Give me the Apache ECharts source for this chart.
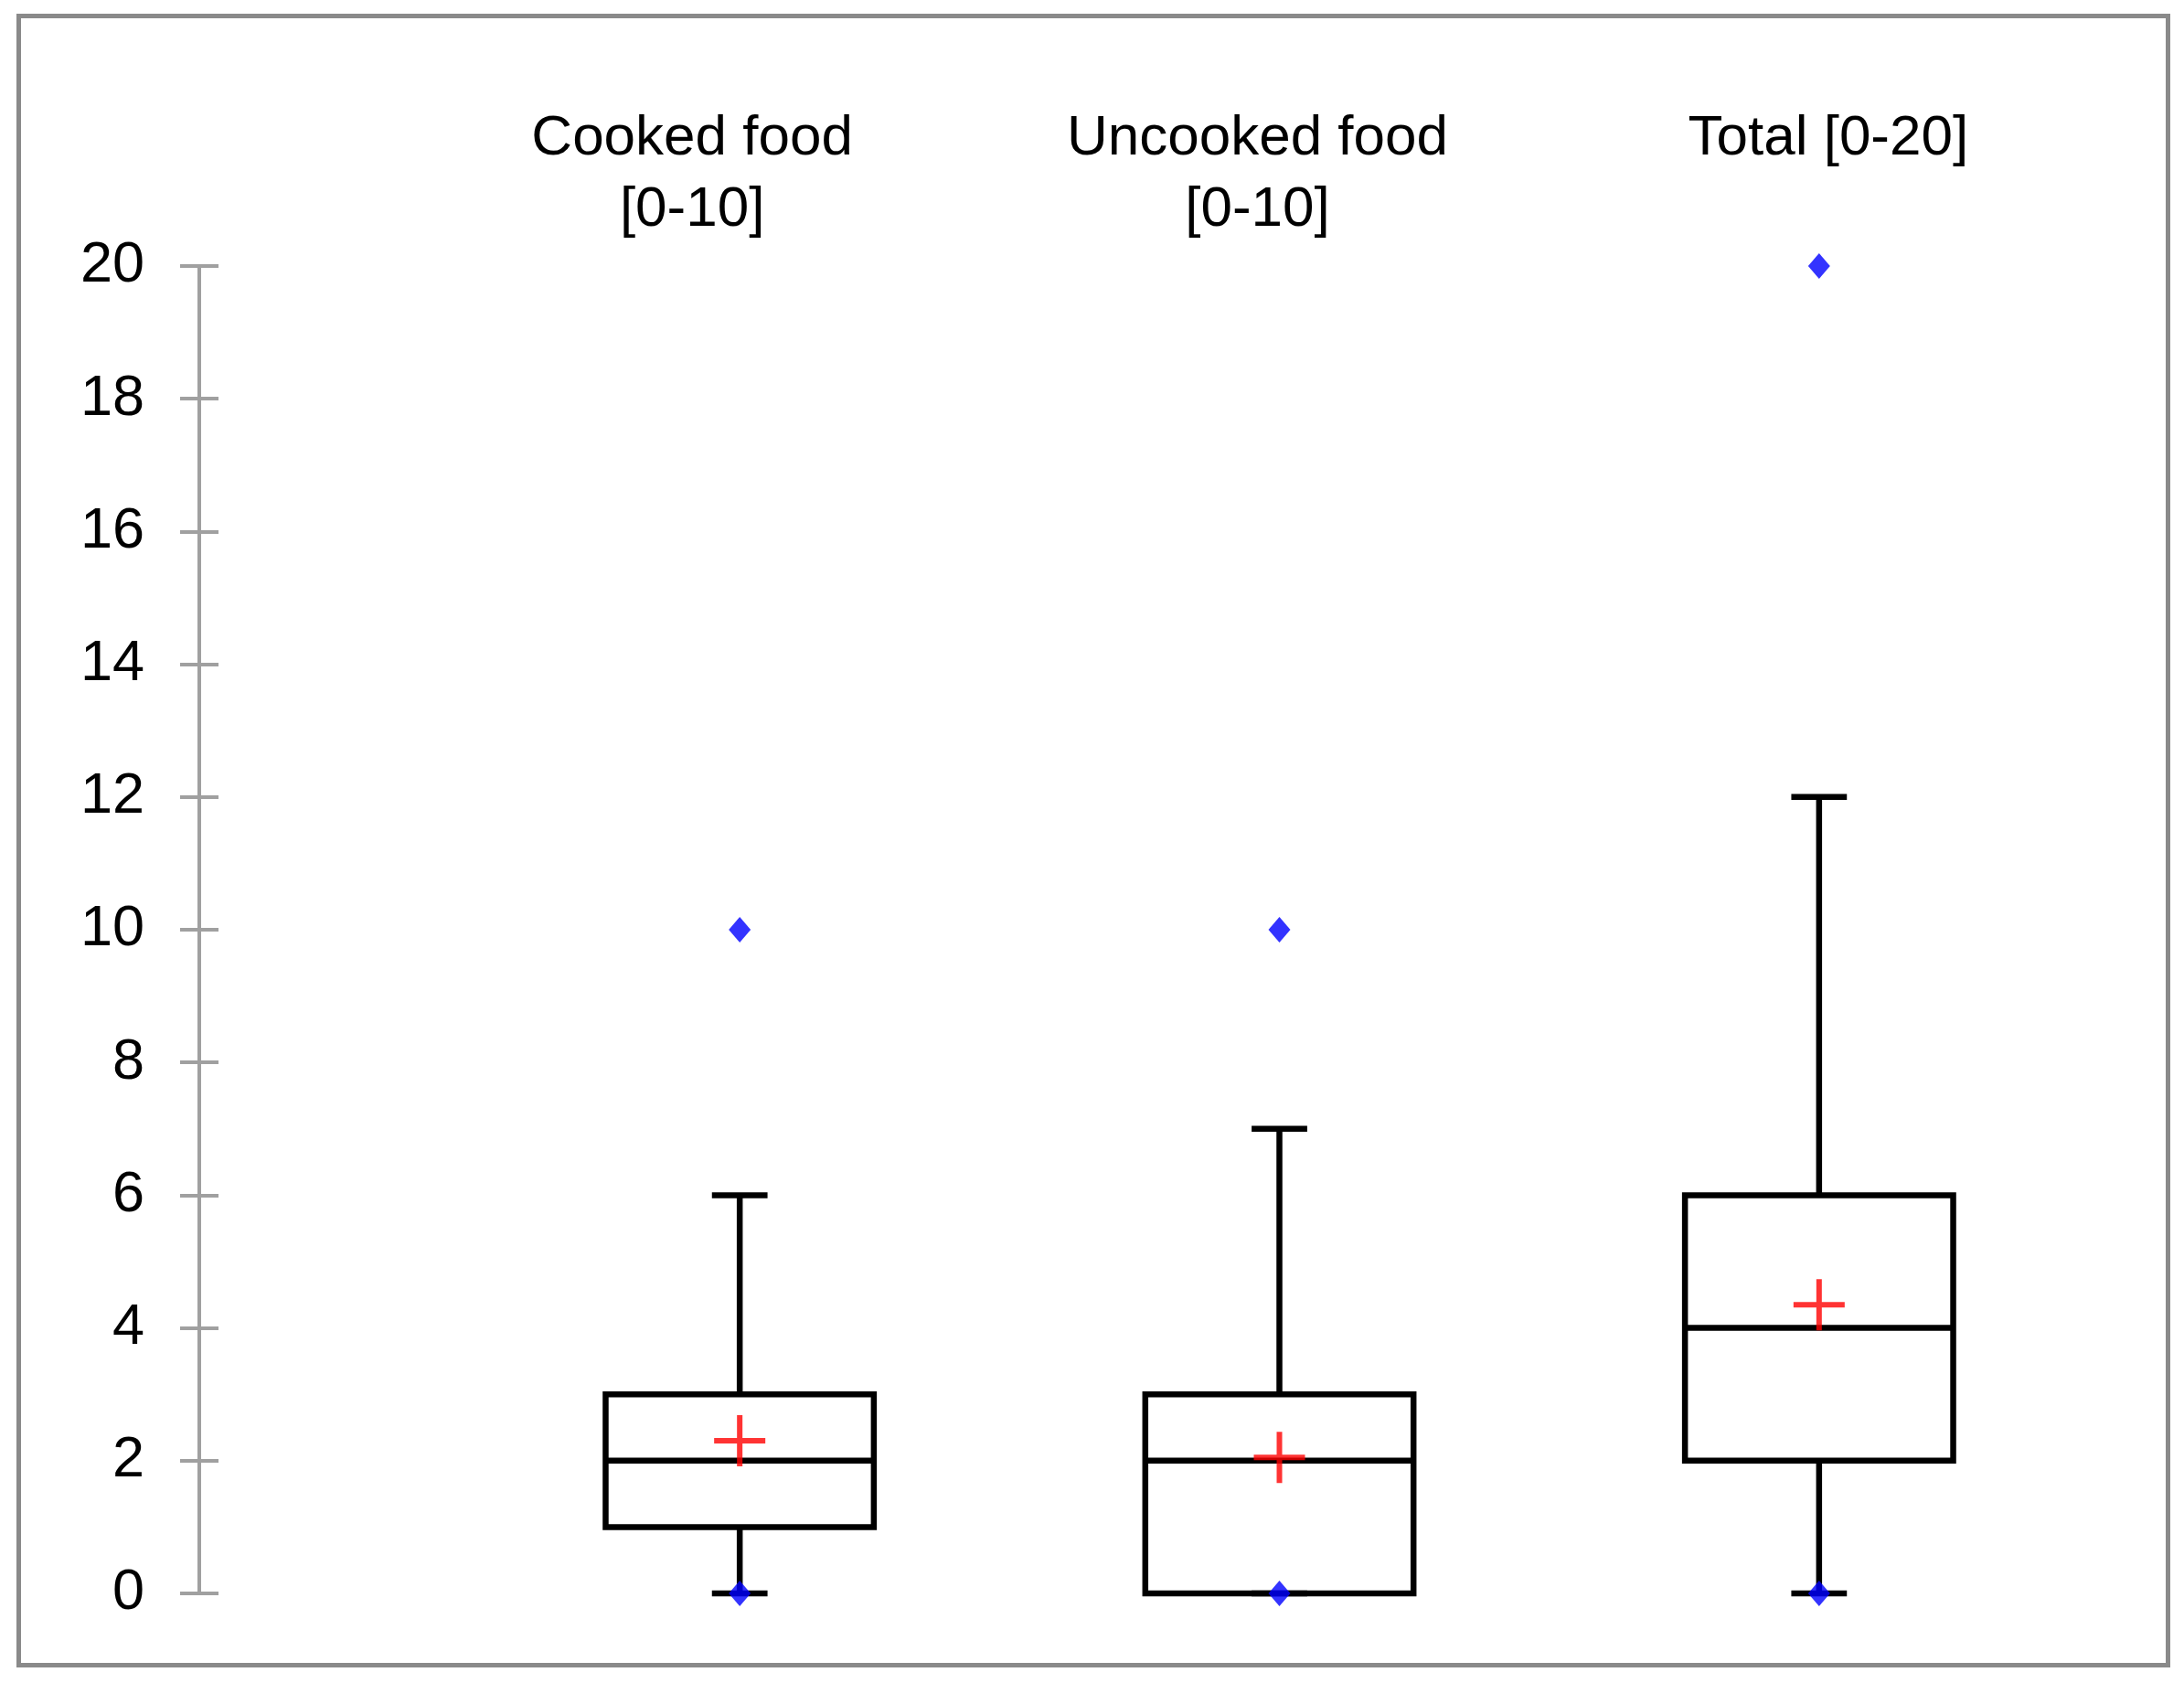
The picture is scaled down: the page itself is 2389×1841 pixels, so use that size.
<!DOCTYPE html>
<html>
<head>
<meta charset="utf-8">
<script src="https://cdn.jsdelivr.net/npm/echarts@6/dist/echarts.min.js"></script>
<style>
html,body{margin:0;padding:0;background:#fff;}
#chart{width:2389px;height:1841px;}
</style>
</head>
<body>
<div id="chart"></div>
<script>
// ---- data ----
const categories = ['Cooked food\n[0-10]', 'Uncooked food\n[0-10]', 'Total [0-20]\n '];
const whiskerLow = [0, 0, 0];
const q1 = [1, 0, 2];
const median = [2, 2, 4];
const q3 = [3, 3, 6];
const whiskerHigh = [6, 7, 12];
const means = [2.3, 2.05, 4.35];
const minPoints = [0, 0, 0];
const maxPoints = [10, 10, 20];
const yTicks = { min: 0, max: 20, interval: 2 };

const FONT = '"Liberation Sans", Arial, sans-serif';

const boxData = categories.map((c, i) => [i, whiskerLow[i], q1[i], median[i], q3[i], whiskerHigh[i]]);
const meanData = means.map((v, i) => [i, v]);
const extremeData = [];
minPoints.forEach((v, i) => extremeData.push([i, v]));
maxPoints.forEach((v, i) => extremeData.push([i, v]));

const labelShift = [104, 48, -20]; // padding to nudge header labels

const chart = echarts.init(document.getElementById('chart'), null, { renderer: 'canvas' });

const lineStyle = { stroke: '#000', lineWidth: 6.5, fill: null };

chart.setOption({
  animation: false,
  backgroundColor: '#fff',
  graphic: [{
    type: 'rect', left: 18, top: 15, silent: true, z: -1,
    shape: { width: 2351, height: 1804 },
    style: { fill: '#fff', stroke: '#8a8a8a', lineWidth: 5 }
  }],
  grid: { left: 514, right: 104, top: 291, bottom: 98 },
  xAxis: {
    type: 'category',
    position: 'top',
    data: categories.map((c, i) => ({
      value: c,
      textStyle: { padding: labelShift[i] >= 0 ? [0, labelShift[i], 0, 0] : [0, 0, 0, -labelShift[i]] }
    })),
    axisLine: { show: false },
    axisTick: { show: false },
    splitLine: { show: false },
    axisLabel: {
      color: '#000', fontFamily: FONT, fontSize: 62, lineHeight: 78, margin: 22, interval: 0
    }
  },
  yAxis: [{
    type: 'value', min: yTicks.min, max: yTicks.max, interval: yTicks.interval,
    offset: 296,
    axisLine: { show: true, lineStyle: { color: '#a0a0a0', width: 4 } },
    axisTick: { show: true, length: 21, lineStyle: { color: '#a0a0a0', width: 4 } },
    splitLine: { show: false },
    axisLabel: { color: '#000', fontFamily: FONT, fontSize: 63, margin: 60 }
  }, {
    type: 'value', min: yTicks.min, max: yTicks.max, interval: yTicks.interval,
    position: 'left', offset: 296,
    axisLine: { show: false },
    axisTick: { show: true, inside: true, length: 21, lineStyle: { color: '#a0a0a0', width: 4 } },
    splitLine: { show: false },
    axisLabel: { show: false }
  }],
  series: [{
    type: 'custom',
    z: 2,
    data: boxData,
    encode: { x: 0, y: [1, 2, 3, 4, 5] },
    renderItem: function (params, api) {
      const x = api.value(0);
      const band = api.size([1, 0])[0];
      const bw = band * 0.497, cw = band * 0.103;
      const cx = api.coord([x, 0])[0];
      const yLo = api.coord([x, api.value(1)])[1];
      const yQ1 = api.coord([x, api.value(2)])[1];
      const yMed = api.coord([x, api.value(3)])[1];
      const yQ3 = api.coord([x, api.value(4)])[1];
      const yHi = api.coord([x, api.value(5)])[1];
      const ln = (x1, y1, x2, y2) => ({ type: 'line', shape: { x1, y1, x2, y2 }, style: lineStyle });
      const children = [
        ln(cx, yQ3, cx, yHi),
        ln(cx, yLo, cx, yQ1),
        ln(cx - cw / 2, yHi, cx + cw / 2, yHi),
        ln(cx - cw / 2, yLo, cx + cw / 2, yLo),
        { type: 'rect', shape: { x: cx - bw / 2, y: yQ3, width: bw, height: yQ1 - yQ3 }, style: lineStyle },
        ln(cx - bw / 2, yMed, cx + bw / 2, yMed)
      ];
      return { type: 'group', children };
    }
  }, {
    type: 'scatter',
    z: 3,
    data: meanData,
    symbol: 'path://M25,0H31V25H56V31H31V56H25V31H0V25H25Z',
    symbolSize: 56,
    itemStyle: { color: '#ff0000' }
  }, {
    type: 'scatter',
    z: 4,
    data: extremeData,
    symbol: 'diamond',
    symbolSize: [24, 28],
    itemStyle: { color: '#0000ff' }
  }]
});
</script>
</body>
</html>
